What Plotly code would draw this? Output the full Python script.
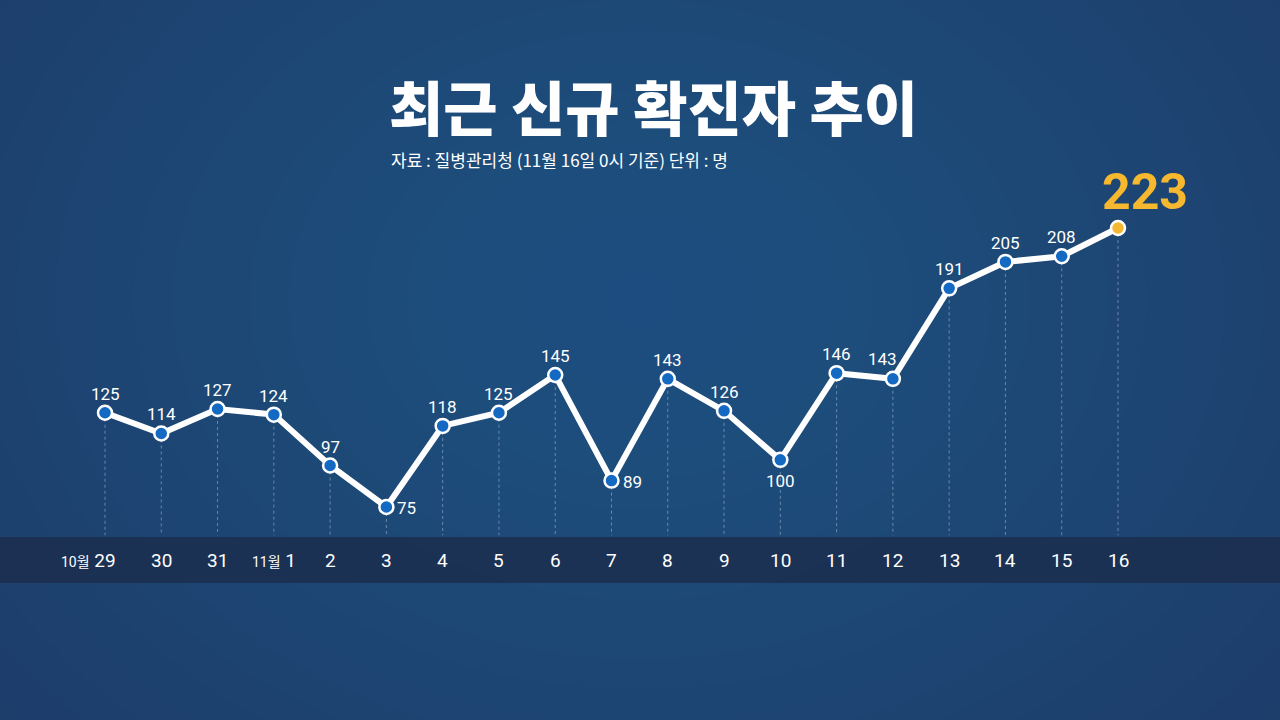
import plotly.graph_objects as go

dates = ["10월 29", "30", "31", "11월 1", "2", "3", "4", "5", "6", "7", "8", "9",
         "10", "11", "12", "13", "14", "15", "16"]
cases = [125, 114, 127, 124, 97, 75, 118, 125, 145, 89, 143, 126, 100, 146, 143,
         191, 205, 208, 223]
label_pos = ["top", "top", "top", "top", "top", "right", "top", "top", "top", "right",
             "top", "top", "bottom", "top", "topleft", "top", "top", "top", "big"]

W, H = 1280, 720
idx = list(range(len(cases)))
BASE = "#1d3865"

fig = go.Figure()

# dotted drop lines
dx, dy = [], []
for i, v in zip(idx, cases):
    dx += [i, i, None]
    dy += [v, 60, None]
fig.add_trace(go.Scatter(x=dx, y=dy, mode="lines",
                         line=dict(color="rgba(200,215,235,0.45)", width=1, dash="dot"),
                         hoverinfo="skip", showlegend=False))

# main line
fig.add_trace(go.Scatter(x=idx, y=cases, mode="lines",
                         line=dict(color="white", width=6),
                         hoverinfo="skip", showlegend=False))

colors = ["#1469c2"] * (len(cases) - 1) + ["#f5b731"]
fig.add_trace(go.Scatter(x=idx, y=cases, mode="markers",
                         marker=dict(size=14, color=colors, line=dict(color="white", width=2.5)),
                         hoverinfo="skip", showlegend=False))

annotations = []
lab_font = dict(family="Roboto", size=17, color="white")
for i, (v, p) in enumerate(zip(cases, label_pos)):
    if p == "top":
        annotations.append(dict(x=i, y=v, text=str(v), showarrow=False, yshift=19,
                                yanchor="middle", font=lab_font))
    elif p == "topleft":
        annotations.append(dict(x=i, y=v, text=str(v), showarrow=False, yshift=20,
                                xshift=-10, yanchor="middle", font=lab_font))
    elif p == "right":
        annotations.append(dict(x=i, y=v, text=str(v), showarrow=False, xanchor="left",
                                xshift=9, yshift=-1, yanchor="middle", font=lab_font))
    elif p == "bottom":
        annotations.append(dict(x=i, y=v, text=str(v), showarrow=False, yshift=-21,
                                yanchor="middle", font=lab_font))
    else:
        annotations.append(dict(x=i, y=v, text="<b>" + str(v) + "</b>", showarrow=False,
                                yshift=36, xshift=27, yanchor="middle",
                                font=dict(family="Roboto", size=50, color="#f5b82e")))

# x labels
for i, d in enumerate(dates):
    if "월" in d:
        m, n = d.split(" ")
        txt = "<span style='font-size:14px'>" + m + "</span> " + n
        xs = -17 if i == 0 else 0
    else:
        txt = d
        xs = 0
    annotations.append(dict(x=i, y=1 - 560 / H, yref="paper", text=txt, showarrow=False,
                            xshift=xs, yanchor="middle",
                            font=dict(family="Roboto, Noto Sans CJK KR", size=19,
                                      color="white")))

annotations.append(dict(x=653 / W, y=1 - 105 / H, xref="paper", yref="paper",
                        xanchor="center", yanchor="middle",
                        text="최근 신규 확진자 추이", showarrow=False,
                        font=dict(family="Noto Sans CJK KR", size=59, color="white",
                                  weight=900)))
annotations.append(dict(x=389 / W, y=1 - 159 / H, xref="paper", yref="paper",
                        xanchor="left", yanchor="middle",
                        text="자료 : 질병관리청 (11월 16일 0시 기준) 단위 : 명", showarrow=False,
                        font=dict(family="Noto Sans CJK KR", size=17, color="white")))

shapes = []
# radial glow
cx, cy = 640, 300
N = 26
for k in range(N):
    r = 780 * (1 - k / N)
    rx, ry = r * 1.3, r
    shapes.append(dict(type="circle", xref="paper", yref="paper", layer="below",
                       x0=(cx - rx) / W, x1=(cx + rx) / W,
                       y0=1 - (cy + ry) / H, y1=1 - (cy - ry) / H,
                       fillcolor="#3d6296", opacity=0.04, line=dict(width=0)))
# axis band
shapes.append(dict(type="rect", xref="paper", yref="paper", layer="below",
                   x0=0, x1=1, y0=1 - 583 / H, y1=1 - 537 / H,
                   fillcolor="#1b2e4d", opacity=0.85, line=dict(width=0)))

px_per_x = (1118 - 105) / 18
px_per_y = (507 - 228) / (223 - 75)
y0px = 507 + 75 * px_per_y

fig.update_layout(
    width=W, height=H,
    margin=dict(l=0, r=0, t=0, b=0),
    paper_bgcolor=BASE, plot_bgcolor="rgba(0,0,0,0)",
    xaxis=dict(range=[-105 / px_per_x, 18 + (W - 1118) / px_per_x], visible=False,
               fixedrange=True),
    yaxis=dict(range=[(y0px - H) / px_per_y, y0px / px_per_y], visible=False,
               fixedrange=True),
    annotations=annotations, shapes=shapes, showlegend=False,
)

fig.write_html("out.html", config={"displayModeBar": False},
               post_script="document.body.style.margin='0';document.body.style.overflow='hidden';")
